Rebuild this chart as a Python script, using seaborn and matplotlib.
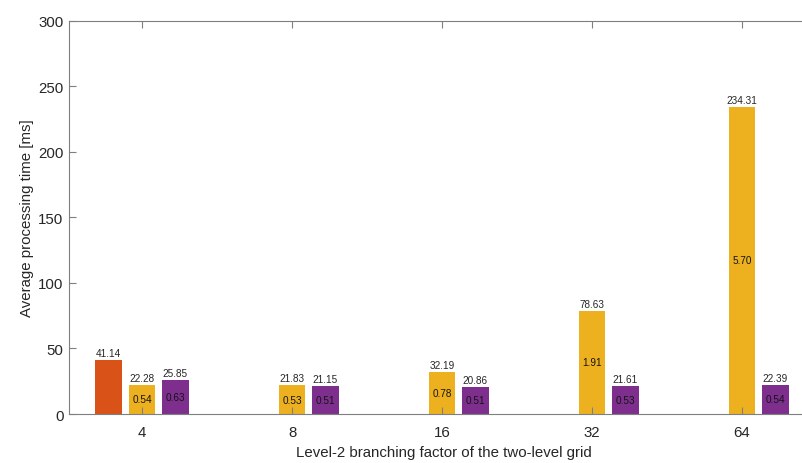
import numpy as np
import pandas as pd
import matplotlib
matplotlib.use("Agg")
import matplotlib.pyplot as plt
import seaborn as sns

# Branching factors (x categories)
categories = ["4", "8", "16", "32", "64"]

# Average processing time [ms] per method
single_level = [41.14, np.nan, np.nan, np.nan, np.nan]
two_level = [22.28, 21.83, 32.19, 78.63, 234.31]
two_level_opt = [25.85, 21.15, 20.86, 21.61, 22.39]

# Secondary figures printed inside the bars
two_level_inner = ["0.54", "0.53", "0.78", "1.91", "5.70"]
two_level_opt_inner = ["0.63", "0.51", "0.51", "0.53", "0.54"]

series_names = ["single", "two_level", "two_level_opt"]
series_values = [single_level, two_level, two_level_opt]
colors = ["#D95319", "#EDB120", "#7E2F8E"]

rows = []
for name, vals in zip(series_names, series_values):
    for cat, v in zip(categories, vals):
        rows.append({"factor": cat, "method": name, "time": v})
df = pd.DataFrame(rows)

sns.set_theme(style="ticks")
plt.rcParams["font.family"] = ["Liberation Sans", "DejaVu Sans"]

fig = plt.figure(figsize=(8.03, 4.64), dpi=100)
ax = fig.add_axes([0.0859, 0.1056, 0.934, 0.8474])

sns.barplot(data=df, x="factor", y="time", hue="method", order=categories,
            hue_order=series_names, palette=colors, width=0.667, gap=0.2,
            saturation=1, linewidth=0, legend=False, ax=ax)

text_color = "#262626"
ink = "#7f7f7f"

# Value labels above bars and secondary labels at bar centres
for container, name, vals in zip(ax.containers, series_names, series_values):
    labels = [f"{v:.2f}" for v in vals if not np.isnan(v)]
    ax.bar_label(container, labels=labels, padding=1.5, fontsize=7.2,
                 color=text_color)
for container, inner in zip(ax.containers[1:], [two_level_inner, two_level_opt_inner]):
    ax.bar_label(container, labels=inner, label_type="center", fontsize=7.2,
                 color="#141414")

ax.set_xlim(-0.487, 4.513)
ax.set_ylim(0, 300)
ax.set_yticks(np.arange(0, 301, 50))

ax.set_xlabel("Level-2 branching factor of the two-level grid",
              fontsize=10.8, color=text_color, labelpad=4)
ax.set_ylabel("Average processing time [ms]", fontsize=10.8,
              color=text_color, labelpad=3)

for side in ["left", "top", "bottom"]:
    ax.spines[side].set_visible(True)
    ax.spines[side].set_color(ink)
    ax.spines[side].set_linewidth(0.8)
ax.spines["right"].set_visible(False)

ax.tick_params(axis="both", direction="in", length=5, width=0.8, color=ink,
               top=True, right=False, labelsize=10.8, labelcolor=text_color)
ax.tick_params(axis="x", pad=8)
ax.tick_params(axis="y", pad=4)
ax.set_axisbelow(False)

fig.savefig("out.png", dpi=100)
